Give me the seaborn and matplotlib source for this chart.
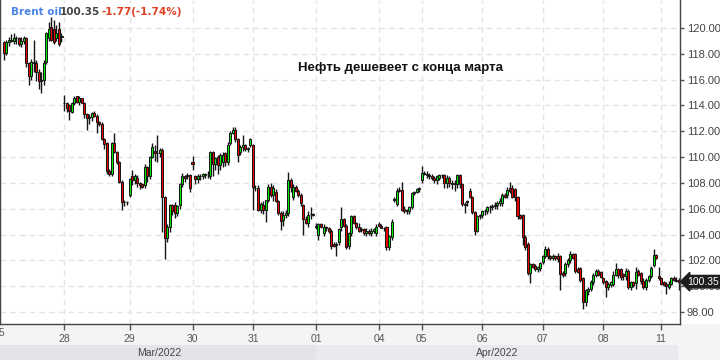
import numpy as np
import pandas as pd
import matplotlib
matplotlib.use("Agg")
import matplotlib.pyplot as plt
import matplotlib.transforms as mtransforms
from matplotlib.patches import Rectangle
import seaborn as sns

# ---- data (hourly Brent candles) ----
day_labels = ["25", "28", "29", "30", "31", "01", "04", "05", "06", "07", "08", "11"]
day_sizes = [24, 26, 25, 24, 25, 25, 17, 24, 24, 24, 23, 8]
month_labels = ["Mar/2022", "Apr/2022"]
y_ticks = [98, 100, 102, 104, 106, 108, 110, 112, 114, 116, 118, 120]
last_price = 100.35
title_name = "Brent oil"
title_price = "100.35"
title_change = "-1.77(-1.74%)"
headline = "Нефть дешевеет с конца марта"

open_ = [
    # 25 Mar
    118.9, 118.1, 118.9, 119.1, 119.0, 119.2, 119.2, 118.8, 119.0, 119.2, 117.3, 116.3,
    117.4, 117.3, 116.6, 115.9, 116.0, 117.4, 119.2, 120.1, 119.9, 119.2, 119.9, 119.3,
    # 28 Mar
    114.2, 114.2, 114.0, 113.5, 114.2, 114.7, 114.3, 114.6, 114.2, 113.3, 113.0, 113.1, 113.4,
    113.2, 112.7, 112.6, 111.4, 111.1, 108.9, 108.7, 111.1, 110.4, 109.6, 108.1, 106.5, 106.5,
    # 29 Mar
    107.1, 108.5, 108.2, 108.4, 108.0, 107.9, 107.8, 109.2, 108.5, 110.0, 110.5, 110.35, 110.3,
    110.55, 106.9, 103.7, 104.6, 106.3, 106.3, 105.7, 106.3, 107.9, 108.5, 108.5, 108.6,
    # 30 Mar
    109.6, 108.5, 108.3, 108.5, 108.5, 108.6, 108.7, 108.5, 110.4, 109.5, 110.0, 109.4,
    109.6, 110.3, 109.6, 111.1, 111.9, 112.1, 111.4, 110.4, 110.8, 110.9, 110.6, 110.9,
    # 31 Mar
    110.9, 107.6, 107.6, 105.9, 106.3, 105.9, 106.7, 107.7, 107.1, 107.3, 106.6, 105.7, 105.1,
    105.5, 105.7, 108.2, 106.9, 107.7, 107.4, 107.06, 106.3, 105.2, 104.9, 105.6, 105.6,
    # 01 Apr
    104.6, 104.0, 104.8, 104.1, 104.6, 104.5, 104.3, 103.3, 103.2, 103.4, 104.6, 105.2, 104.7,
    103.1, 104.1, 105.4, 104.9, 104.6, 104.4, 104.4, 104.1, 104.3, 104.1, 104.3, 104.1,
    # 04 Apr
    104.8, 104.7, 104.5, 104.6, 103.0, 103.8, 106.7, 106.4, 107.4, 107.45, 106.0, 105.9,
    105.8, 106.1, 107.2, 107.3, 107.5,
    # 05 Apr
    108.2, 108.8, 108.7, 108.6, 108.5, 108.4, 108.2, 108.4, 108.6, 108.6, 108.0, 108.4,
    108.0, 107.9, 107.9, 108.6, 107.9, 106.3, 106.5, 107.4, 106.9, 105.75, 104.3, 105.4,
    # 06 Apr
    105.5, 105.8, 105.8, 106.1, 106.1, 106.3, 106.3, 106.45, 106.45, 107.1, 107.06, 107.6,
    107.6, 107.5, 106.9, 105.5, 105.5, 103.8, 103.3, 101.0, 101.7, 101.6, 101.3, 101.4,
    # 07 Apr
    101.9, 102.3, 102.9, 102.3, 102.2, 102.3, 102.3, 102.3, 101.0, 101.0, 101.7, 102.0,
    102.5, 102.5, 101.3, 101.4, 100.6, 98.8, 99.6, 99.8, 100.3, 100.9, 101.2, 101.1,
    # 08 Apr
    100.6, 100.4, 99.9, 100.1, 100.2, 100.9, 101.3, 101.3, 100.95, 100.75, 101.2, 99.9,
    100.3, 100.25, 101.2, 101.0, 100.4, 99.9, 100.5, 100.8, 101.65, 102.4, 100.8,
    # 11 Apr
    100.6, 100.3, 100.2, 99.9, 100.2, 100.6, 100.5, 100.5,
]
high = [
    119.0, 119.1, 119.3, 119.5, 119.6, 119.4, 119.3, 119.3, 119.4, 119.3, 117.4, 117.6,
    119.1, 117.5, 116.8, 116.6, 117.5, 119.7, 120.5, 120.85, 120.6, 120.2, 120.5, 119.6,
    114.8, 114.3, 114.1, 114.3, 114.7, 114.7, 114.7, 114.6, 114.3, 113.4, 113.3, 113.5, 113.6,
    113.3, 112.8, 112.7, 111.5, 111.2, 109.1, 111.2, 111.9, 110.5, 109.7, 108.2, 106.7, 106.6,
    108.4, 109.0, 108.7, 108.6, 108.1, 108.0, 109.5, 109.3, 110.1, 111.1, 110.9, 111.7, 110.7,
    110.7, 107.0, 104.8, 106.4, 106.4, 106.5, 106.3, 108.0, 108.8, 108.6, 108.8, 108.7,
    110.1, 108.6, 108.7, 108.7, 108.8, 108.8, 108.9, 110.5, 110.5, 110.0, 110.2, 110.3,
    110.4, 110.4, 111.2, 112.0, 112.3, 112.3, 111.5, 110.9, 111.7, 111.0, 110.8, 111.5,
    111.0, 107.8, 107.8, 106.5, 106.6, 106.7, 107.9, 108.0, 107.8, 107.5, 106.7, 105.8, 105.8,
    105.9, 108.85, 108.4, 107.9, 107.8, 107.5, 107.2, 106.4, 105.4, 105.8, 106.1, 105.7,
    104.9, 104.9, 104.9, 104.8, 104.7, 104.6, 104.4, 103.4, 103.4, 104.5, 106.1, 105.3, 104.8,
    104.2, 105.5, 105.5, 105.0, 104.9, 104.6, 104.5, 104.5, 104.4, 104.5, 104.5, 104.8,
    105.0, 104.8, 104.6, 104.7, 104.0, 105.2, 106.9, 107.6, 107.7, 108.1, 106.2, 106.0,
    106.2, 107.3, 107.4, 107.6, 107.7,
    109.3, 108.9, 108.9, 108.8, 108.7, 108.5, 108.6, 108.7, 108.7, 108.7, 108.6, 108.5,
    108.2, 108.2, 108.7, 108.7, 108.0, 106.5, 106.7, 107.6, 107.0, 105.8, 105.5, 105.6,
    105.9, 106.0, 106.2, 106.3, 106.4, 106.5, 106.6, 106.8, 107.2, 107.2, 107.7, 108.1,
    107.8, 107.6, 107.0, 105.6, 105.6, 104.0, 103.4, 101.8, 101.8, 101.7, 101.6, 101.9,
    102.4, 103.1, 103.0, 102.4, 102.5, 102.4, 102.6, 102.4, 101.2, 101.9, 102.2, 102.7,
    102.6, 102.6, 101.5, 101.5, 100.7, 99.8, 99.9, 100.5, 101.0, 101.3, 101.3, 101.2,
    100.7, 100.5, 100.3, 100.4, 101.2, 101.8, 101.4, 101.4, 101.0, 101.4, 101.3, 100.4,
    100.4, 101.5, 101.3, 101.1, 100.6, 100.6, 100.9, 101.6, 102.9, 102.5, 101.5,
    100.7, 100.4, 100.3, 100.4, 100.7, 100.8, 100.7, 100.6,
]
low = [
    117.5, 117.9, 118.6, 118.9, 118.8, 118.8, 118.6, 118.5, 118.8, 117.0, 115.6, 116.0,
    116.6, 115.9, 115.3, 115.0, 115.6, 117.2, 119.0, 119.0, 118.8, 119.0, 118.6, 118.9,
    113.6, 113.5, 112.9, 113.4, 114.0, 114.2, 114.0, 114.2, 113.0, 112.1, 112.6, 112.8, 113.1,
    111.9, 112.4, 111.3, 110.6, 108.7, 108.5, 108.5, 110.3, 109.5, 108.0, 105.9, 106.2, 106.3,
    106.9, 107.8, 107.9, 107.7, 107.5, 107.6, 107.6, 108.1, 108.3, 109.9, 109.7, 109.6, 110.0,
    104.2, 102.1, 103.4, 104.2, 105.5, 105.3, 105.4, 106.0, 107.7, 108.1, 108.3, 107.3,
    109.0, 107.9, 108.0, 108.2, 108.3, 108.4, 108.4, 108.3, 108.5, 109.0, 108.7, 109.0,
    109.2, 109.3, 109.4, 110.9, 111.8, 111.2, 109.6, 110.2, 110.5, 110.5, 110.4, 110.8,
    105.9, 107.4, 105.8, 105.7, 105.6, 105.0, 106.5, 106.9, 106.6, 106.5, 105.5, 104.35, 104.7,
    105.3, 105.4, 107.3, 106.7, 107.3, 106.9, 106.2, 103.97, 104.8, 104.6, 105.2, 105.4,
    104.4, 103.6, 104.5, 103.9, 104.3, 104.1, 102.9, 103.0, 102.3, 103.2, 104.3, 104.6, 102.9,
    102.9, 103.9, 104.8, 104.4, 104.2, 104.2, 104.0, 103.9, 104.0, 103.9, 104.1, 103.9,
    104.6, 104.5, 104.3, 102.8, 102.8, 103.6, 106.5, 106.2, 107.3, 105.8, 105.7, 105.6,
    105.6, 106.0, 107.1, 107.2, 107.3,
    108.0, 108.6, 108.4, 108.3, 108.2, 108.0, 107.9, 108.2, 108.4, 107.6, 107.6, 107.7,
    107.5, 107.4, 107.6, 107.6, 106.2, 105.7, 106.2, 106.8, 105.6, 104.0, 104.2, 105.2,
    105.3, 105.5, 105.6, 105.7, 105.9, 106.0, 106.0, 106.2, 106.2, 106.8, 106.8, 107.2,
    106.8, 106.6, 105.2, 105.2, 103.2, 102.8, 100.9, 100.25, 101.4, 101.2, 101.1, 101.2,
    101.7, 102.2, 102.1, 102.0, 102.0, 102.0, 101.9, 99.7, 100.7, 100.8, 101.5, 101.8,
    102.1, 101.0, 101.0, 100.3, 98.2, 98.5, 99.3, 99.6, 100.1, 100.7, 100.8, 100.6,
    100.2, 99.2, 99.7, 99.9, 100.0, 100.8, 100.6, 100.5, 100.5, 100.5, 99.8, 99.7,
    99.9, 99.8, 100.8, 100.2, 99.8, 99.7, 100.3, 100.6, 101.5, 102.1, 100.5,
    100.1, 100.0, 99.4, 99.8, 100.1, 100.4, 100.3, 99.7,
]
close = [
    118.1, 118.9, 119.1, 119.0, 119.2, 119.2, 118.8, 119.0, 119.2, 117.3, 116.3, 117.4,
    117.3, 116.6, 115.9, 116.0, 117.3, 119.6, 119.9, 119.1, 118.9, 119.6, 118.8, 119.35,
    114.2, 113.8, 113.6, 114.2, 114.6, 114.3, 114.6, 114.2, 113.3, 113.0, 113.1, 113.4, 113.2,
    112.7, 112.6, 111.4, 111.0, 108.9, 108.7, 111.1, 110.4, 109.6, 108.1, 106.5, 106.5, 106.5,
    108.3, 108.2, 108.5, 108.0, 107.8, 107.7, 109.2, 108.5, 110.0, 110.8, 110.3, 110.3, 110.55,
    106.9, 103.7, 104.6, 106.3, 105.8, 105.7, 106.2, 107.9, 108.5, 108.4, 108.6, 107.6,
    109.5, 108.3, 108.5, 108.55, 108.7, 108.7, 108.7, 110.4, 109.5, 109.9, 109.4, 110.2,
    110.2, 109.6, 110.9, 111.9, 112.1, 111.4, 110.2, 110.8, 110.9, 110.6, 110.7, 111.4,
    107.7, 107.6, 105.9, 106.4, 105.9, 106.7, 107.7, 107.1, 107.6, 106.6, 105.7, 105.05, 105.5,
    105.7, 108.2, 107.7, 107.7, 107.4, 107.1, 106.44, 105.2, 104.9, 105.5, 105.6, 105.55,
    104.65, 104.8, 104.6, 104.6, 104.5, 104.3, 103.1, 103.1, 103.3, 104.4, 105.2, 104.7, 103.0,
    104.1, 105.4, 104.9, 104.6, 104.3, 104.35, 104.1, 104.3, 104.1, 104.3, 104.4, 104.6,
    104.7, 104.5, 104.5, 103.0, 103.9, 105.0, 106.7, 107.4, 107.4, 105.9, 105.8, 105.8,
    106.1, 107.2, 107.3, 107.5, 107.6,
    108.8, 108.7, 108.6, 108.5, 108.4, 108.2, 108.5, 108.6, 108.6, 108.0, 108.4, 108.0,
    107.9, 108.0, 108.6, 107.9, 106.4, 106.4, 106.6, 106.9, 105.75, 104.3, 105.4, 105.5,
    105.8, 105.8, 106.1, 106.1, 106.2, 106.2, 106.45, 106.6, 107.06, 106.9, 107.45, 107.4,
    106.9, 106.9, 105.4, 105.3, 103.8, 103.0, 101.0, 101.7, 101.5, 101.3, 101.5, 101.8,
    102.3, 102.9, 102.3, 102.2, 102.3, 102.2, 102.1, 100.95, 100.9, 101.7, 102.0, 102.5,
    102.2, 101.2, 101.1, 100.5, 98.8, 99.7, 99.8, 100.3, 100.9, 101.2, 100.9, 100.7,
    100.3, 99.9, 100.2, 100.3, 100.9, 101.3, 100.9, 100.7, 100.75, 101.2, 99.9, 100.3,
    100.1, 101.1, 100.9, 100.4, 99.9, 100.5, 100.8, 101.4, 102.4, 102.2, 100.6,
    100.2, 100.1, 100.0, 100.2, 100.6, 100.5, 100.4, 100.35,
]

n = min(len(open_), len(high), len(low), len(close))
df = pd.DataFrame({"o": open_[:n], "h": high[:n], "l": low[:n], "c": close[:n]})
df["i"] = np.arange(n)
df["dir"] = np.where(df["c"] >= df["o"], "up", "down")
df["body_lo"] = df[["o", "c"]].min(axis=1)
df["body_h"] = (df["c"] - df["o"]).abs().clip(lower=0.02)

day_starts = np.concatenate([[0], np.cumsum(day_sizes)[:-1]])

# ---- style ----
sns.set_theme(style="white")
plt.rcParams["font.family"] = ["DejaVu Sans"]
palette = {"up": "#00ee00", "down": "#ee0000"}
axis_font = ["Liberation Sans", "DejaVu Sans"]

fig = plt.figure(figsize=(7.2, 3.6), dpi=100, facecolor="white")
ax = fig.add_axes([0, 36 / 360, 680 / 720, 324 / 360])
ax.set_facecolor("white")

# bottom bands
fig.patches.append(Rectangle((0, 0), 1, 36 / 360, transform=fig.transFigure,
                             fc="#f3f4f6", ec="none", zorder=-5))
fig.patches.append(Rectangle((0, 0), 316 / 720, 15 / 360, transform=fig.transFigure,
                             fc="#e3e4e7", ec="none", zorder=-4))
fig.patches.append(Rectangle((316 / 720, 0), 362 / 720, 15 / 360, transform=fig.transFigure,
                             fc="#e9eaed", ec="none", zorder=-4))

# wicks
ax.vlines(df["i"], df["l"], df["h"], color="#151515", lw=1.0, zorder=2)
# bodies
ax.bar(df["i"], df["body_h"], bottom=df["body_lo"], width=0.8,
       color=[palette[d] for d in df["dir"]], edgecolor="#151515", linewidth=0.7, zorder=3)

ax.set_xlim(-1.41, 268.5)
ax.set_ylim(97.07, 122.17)

# grid
ax.set_yticks(y_ticks)
ax.set_yticklabels([f"{v:.2f}" for v in y_ticks])
ax.set_xticks(day_starts[1:])
ax.set_xticklabels(day_labels[1:])
ax.grid(True, color="#e4e4e4", linestyle=(0, (4, 3)), linewidth=1.0, zorder=0)
ax.set_axisbelow(True)

ax.yaxis.tick_right()
ax.tick_params(axis="y", which="both", right=True, left=False, length=3, width=1,
               color="#555555", labelsize=8, labelcolor="#444444", pad=2)
ax.tick_params(axis="x", which="both", bottom=True, length=4, width=1,
               color="#555555", labelsize=7.5, labelcolor="#555555", pad=3)
for lab in ax.get_yticklabels() + ax.get_xticklabels():
    lab.set_family(axis_font)

for side in ["left", "right", "bottom"]:
    ax.spines[side].set_visible(True)
    ax.spines[side].set_color("#444444")
    ax.spines[side].set_linewidth(1.0)
ax.spines["top"].set_visible(False)

# first (cut off) day label
trans_xa = mtransforms.blended_transform_factory(ax.transData, ax.transAxes)
ax.text(-1.8, -0.012, day_labels[0], transform=trans_xa, ha="center", va="top",
        fontsize=7.5, color="#555555", clip_on=False, family=axis_font)

# month labels
fig.text(159 / 720, 7.5 / 360, month_labels[0], ha="center", va="center",
         fontsize=7.5, color="#444444", family=axis_font)
fig.text(497 / 720, 7.5 / 360, month_labels[1], ha="center", va="center",
         fontsize=7.5, color="#444444", family=axis_font)

# last price tag
trans_ay = mtransforms.blended_transform_factory(ax.transAxes, ax.transData)
ax.text(687 / 680, last_price, f"{last_price:.2f}", transform=trans_ay, ha="left",
        va="center", fontsize=7.5, color="white", clip_on=False, zorder=10,
        family=axis_font,
        bbox=dict(boxstyle="larrow,pad=0.12", fc="#1e1e1e", ec="#1e1e1e"))

# title pieces
fig.text(11 / 720, 1 - 12 / 360, title_name, ha="left", va="center", fontsize=7.5,
         fontweight="bold", color="#4a86e8")
fig.text(60 / 720, 1 - 12 / 360, title_price, ha="left", va="center", fontsize=7.5,
         fontweight="bold", color="#444444")
fig.text(102 / 720, 1 - 12 / 360, title_change, ha="left", va="center", fontsize=7.5,
         fontweight="bold", color="#e04020")

# headline
fig.text(400 / 720, 1 - 68 / 360, headline, ha="center", va="center", fontsize=9.5,
         fontweight="bold", color="#111111", family=["Liberation Sans", "DejaVu Sans"])

fig.savefig("out.png", dpi=100, facecolor="white")
